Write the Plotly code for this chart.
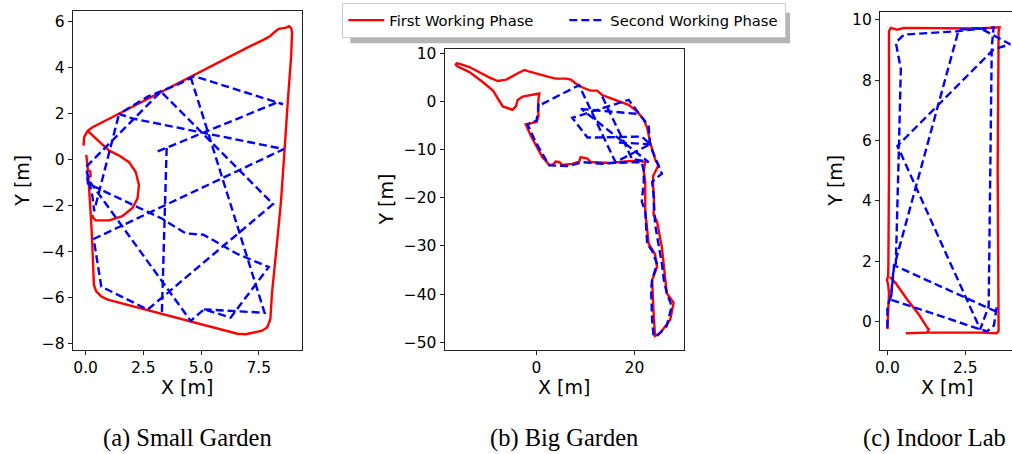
import plotly.graph_objects as go

W, H = 1012, 454

# ---------------- (a) Small Garden ----------------
small_first_x = [-0.09, -0.06, 0.09, 0.3, 1.0, 2.0, 3.0, 4.0, 5.0, 6.0, 7.0, 7.7, 8.0, 8.15, 8.36, 8.65,
                 8.75, 8.82, 8.91, 8.94, 8.9, 8.84, 8.75, 8.62, 8.46, 8.3, 8.15, 8.07, 8.0, 7.93, 7.86,
                 7.64, 7.43, 7.14, 6.93, 6.57, 5.0, 3.0, 1.5, 0.96, 0.68, 0.46, 0.36, 0.33, 0.27, 0.2,
                 0.12, 0.22, 0.2, 0.1, 0.07, 0.03,
                 None,
                 0.09, 0.55, 1.02, 1.45, 1.88, 2.17, 2.31, 2.25, 2.03, 1.59, 1.02, 0.44, 0.33, 0.3]
small_first_y = [0.62, 1.0, 1.26, 1.42, 1.78, 2.3, 2.82, 3.33, 3.85, 4.37, 4.88, 5.22, 5.39, 5.53, 5.7, 5.74,
                 5.77, 5.81, 5.71, 5.53, 4.5, 3.5, 2.47, 0.5, -1.81, -3.5, -5.0, -5.8, -6.93, -7.15, -7.29,
                 -7.43, -7.48, -7.52, -7.58, -7.56, -7.15, -6.62, -6.22, -6.08, -5.94, -5.72, -5.44, -4.5, -3.23, -2.0,
                 -0.75, -0.7, -0.5, -0.45, -0.1, 0.22,
                 None,
                 1.26, 0.84, 0.4, 0.19, -0.1, -0.53, -1.09, -1.67, -2.09, -2.45, -2.63, -2.63, -2.52, -2.4]

small_second_x = [3.12, 8.3, 8.55, 4.7, 3.98, 2.69, 1.45, 2.03, 8.58, 0.35, 0.68, 2.69, 8.12, 3.26, 0.02,
                  0.15, 4.55, 5.13, 6.28, 7.93, 6.57, 5.1, 4.34, 3.3, 0.1, 0.05, 0.3, 0.37, 1.45,
                  None,
                  4.55, 7.75, 5.13,
                  None,
                  3.51, 3.3]
small_second_y = [0.37, 2.5, 2.42, 3.64, 3.27, 2.75, 2.0, 1.8, 0.47, -3.44, -5.51, -6.51, -1.92, 2.97, -0.31,
                  -0.9, -7.0, -6.5, -6.86, -4.66, -4.09, -3.25, -3.2, -2.55, -1.03, -0.5, -1.6, -2.23, 2.0,
                  None,
                  3.6, -6.65, -6.5,
                  None,
                  0.52, -6.75]

# ---------------- (b) Big Garden ----------------
big_first_x = [-16.5, -15.7, -13.7, -11.0, -9.6, -7.9, -6.2, -4.2, -2.5, -1.8, -0.1, 1.9, 3.9, 6.0, 7.0, 8.0,
               9.3, 11.0, 12.4, 13.4, 14.8, 16.8, 18.8, 20.5, 21.9, 22.6, 23.2, 23.9, 24.3, 24.9, 24.6,
               23.8, 23.8, 24.0, 23.9, 24.6, 25.6, 26.3, 26.6, 28.0, 27.3, 25.3, 24.2, 23.9, 23.6, 24.6,
               24.2, 22.9, 22.2, 22.2, 21.9, 22.2, 20.9, 18.2, 14.8, 11.0, 10.4, 9.0, 8.7, 7.3, 5.3, 4.6,
               3.9, 3.3, 2.6, 1.2, -0.1, -1.15, -2.2, -1.5, 0.0, 0.4, 0.3, 0.4, 0.55, 0.0, -1.5, -2.85,
               -3.86, -4.2, -4.9, -6.9, -8.9, -11.0, -13.7, -16.1, -16.5, -16.5]
big_first_y = [7.9, 7.76, 7.1, 5.7, 4.9, 4.2, 4.5, 5.6, 6.5, 6.26, 5.7, 5.2, 4.7, 4.7, 4.5, 3.7,
               2.9, 2.2, 2.2, 1.3, 0.76, -0.05, -0.73, -2.1, -3.8, -5.5, -8.5, -10.9, -12.3, -13.3, -14.0,
               -15.5, -17.5, -20.0, -23.5, -24.9, -30.3, -37.8, -39.8, -41.8, -45.3, -48.0, -48.7, -43.9, -37.1, -34.4,
               -31.7, -29.6, -22.8, -16.7, -14.5, -12.6, -12.3, -12.5, -12.8, -12.6, -11.9, -11.6, -12.5, -13.0, -13.2, -12.6,
               -12.5, -13.2, -13.2, -11.6, -9.2, -7.2, -4.8, -4.6, -4.3, -3.1, -1.0, 0.5, 1.6, 1.5, 1.3, 0.97,
               0.28, -1.0, -1.76, -1.07, 2.2, 4.0, 6.06, 7.2, 7.6, 7.9]

big_second_x = [0.4, 0.3, 0.0, -1.83, -0.14, 1.89, 2.58, 6.65, 9.35, 13.41, 16.12, 21.5, 21.9, 21.9, 21.5,
                22.2, 22.6, 23.6, 24.6, 23.6, 23.4, 23.6, 23.9, 24.6, 26.6, 27.6, 26.6, 26.0, 25.6, 24.9,
                24.2, 23.9, 23.6, 25.6, 24.9, 23.2, 22.9, 20.9, 18.8, 7.3, 10.4, 21.5, 23.2, 16.12, 8.68, 0.3,
                None,
                13.41, 19.5, 22.9, 9.35,
                None,
                16.8, 22.9,
                None,
                9.0, 20.5]
big_second_y = [-0.5, -2.0, -4.0, -4.82, -8.55, -11.96, -13.3, -13.44, -12.63, -12.97, -12.77, -12.63, -14.5, -16.7, -20.8,
                -22.8, -29.6, -31.0, -33.7, -37.1, -39.1, -45.2, -48.7, -48.7, -46.6, -42.5, -39.8, -37.1, -33.7, -29.6,
                -25.5, -19.4, -16.7, -15.0, -13.3, -9.2, -5.15, -2.44, 0.3, -3.45, -7.53, -7.33, -8.9, -12.63, 3.33, -1.0,
                None,
                0.97, -11.96, -12.63, -1.76,
                None,
                -8.55, -8.9,
                None,
                -1.6, -2.6]

# ---------------- (c) Indoor Lab ----------------
lab_first_x = [0.0, 0.02, 0.05, 0.02, -0.02, 0.02, 0.03, 0.05, 0.05, 0.11, 0.32, 0.53, 1.38, 2.98, 3.6,
               3.57, 3.54, 3.57, 3.51, 2.98, 1.3, 0.59,
               None,
               0.08, 0.27, 0.64, 1.01, 1.28, 1.33, 1.28]
lab_first_y = [-0.25, 0.5, 0.94, 1.25, 1.38, 1.49, 1.81, 5.07, 9.62, 9.73, 9.67, 9.73, 9.73, 9.71, 9.75,
               9.62, 5.07, -0.3, -0.38, -0.36, -0.36, -0.38,
               None,
               1.48, 1.27, 0.73, 0.24, -0.2, -0.25, -0.36]

lab_second_x = [0.0, 0.0, 0.11, 0.16, 0.21, 3.46, 3.51, 3.42, 3.2, 2.98, 0.11, 0.21, 2.29, 2.98, 3.94, 3.41,
                0.32, 2.98, 3.25, 3.35, 3.41, 2.24, 1.06, 0.53, 0.27, 0.43, 0.37, 0.27, 0.2]
lab_second_y = [-0.2, 0.51, 0.83, 1.49, 1.87, 0.35, 0.5, -0.12, -0.32, -0.25, 0.73, 1.81, 9.67, 9.72, 9.19, 9.02,
                5.82, -0.25, 0.51, 9.1, 9.75, 9.62, 9.53, 9.51, 9.24, 8.37, 5.82, 1.92, 1.85]

# axis ticks per panel
small_xticks = [0.0, 2.5, 5.0, 7.5]
small_xtext = ["0.0", "2.5", "5.0", "7.5"]
small_yticks = [-8, -6, -4, -2, 0, 2, 4, 6]
big_xticks = [0, 20]
big_yticks = [-50, -40, -30, -20, -10, 0, 10]
lab_xticks = [0.0, 2.5]
lab_xtext = ["0.0", "2.5"]
lab_yticks = [0, 2, 4, 6, 8, 10]

captions = ["(a) Small Garden", "(b) Big Garden", "(c) Indoor Lab"]
series_names = ["First Working Phase", "Second Working Phase"]

RED = "#ff0000"
BLUE = "#0000ff"
LW = 2.4
DASH = "8px,4px"
TICK_FONT = dict(family="DejaVu Sans", size=15.5, color="black")


def px_x(p):
    return p / W


def px_y(p):
    return 1 - p / H


fig = go.Figure()

panels = [
    ("x", "y", small_first_x, small_first_y, small_second_x, small_second_y, True),
    ("x2", "y2", big_first_x, big_first_y, big_second_x, big_second_y, False),
    ("x3", "y3", lab_first_x, lab_first_y, lab_second_x, lab_second_y, False),
]
for xa, ya, fx, fy, sx, sy, show in panels:
    fig.add_trace(go.Scatter(x=fx, y=fy, mode="lines", name=series_names[0], xaxis=xa, yaxis=ya,
                             line=dict(color=RED, width=LW), showlegend=show, legendrank=1))
    fig.add_trace(go.Scatter(x=sx, y=sy, mode="lines", name=series_names[1], xaxis=xa, yaxis=ya,
                             line=dict(color=BLUE, width=LW, dash=DASH), showlegend=show, legendrank=2))

axis_common = dict(showgrid=False, zeroline=False, showline=True, linecolor="#222222", linewidth=1,
                   ticks="outside", ticklen=4, tickwidth=1, tickcolor="#222222", tickfont=TICK_FONT)

fig.update_layout(
    width=W, height=H, margin=dict(l=0, r=0, t=0, b=0),
    paper_bgcolor="white", plot_bgcolor="white",
    xaxis=dict(domain=[px_x(68), px_x(298)], range=[-0.56, 9.35], tickvals=small_xticks,
               ticktext=small_xtext, anchor="y", mirror=True, **axis_common),
    yaxis=dict(domain=[px_y(351), px_y(6)], range=[-8.26, 6.48], tickvals=small_yticks,
               anchor="x", mirror=True, **axis_common),
    xaxis2=dict(domain=[px_x(441.7), px_x(682.3)], range=[-18.8, 30.1], tickvals=big_xticks,
                anchor="y2", mirror=True, **axis_common),
    yaxis2=dict(domain=[px_y(350.7), px_y(45)], range=[-51.5, 10.8], tickvals=big_yticks,
                anchor="x2", mirror=True, **axis_common),
    xaxis3=dict(domain=[px_x(879.3), 1.0], range=[-0.24, 4.0], tickvals=lab_xticks,
                ticktext=lab_xtext, anchor="y3", mirror=True, **axis_common),
    yaxis3=dict(domain=[px_y(350.7), px_y(6.7)], range=[-0.92, 10.27], tickvals=lab_yticks,
                anchor="x3", mirror=False, **axis_common),
    legend=dict(orientation="h", x=px_x(339), y=px_y(-2), xanchor="left", yanchor="top",
                bgcolor="white", bordercolor="#cccccc", borderwidth=1,
                font=dict(family="DejaVu Sans", size=14.7, color="black"),
                itemwidth=36, entrywidth=170, traceorder="normal"),
    showlegend=True,
)

# soft drop shadow behind the legend box
fig.add_shape(type="rect", xref="paper", yref="paper",
              x0=px_x(347), x1=px_x(789), y0=px_y(39), y1=px_y(8),
              fillcolor="#b5b5b5", line=dict(width=0), layer="below")

title_font = dict(family="DejaVu Sans", size=19, color="black")
# x-axis titles
for cx in (183, 562, 946.7):
    fig.add_annotation(text="X [m]", xref="paper", yref="paper", x=px_x(cx), y=px_y(389),
                       showarrow=False, xanchor="center", yanchor="middle", font=title_font)
# y-axis titles
for cx, cy in ((17, 179), (382, 198), (834, 179)):
    fig.add_annotation(text="Y [m]", xref="paper", yref="paper", x=px_x(cx), y=px_y(cy),
                       showarrow=False, xanchor="center", yanchor="middle", textangle=-90, font=title_font)

cap_font = dict(family="Liberation Serif", size=24.5, color="black")
fig.add_annotation(text=captions[0], xref="paper", yref="paper", x=px_x(183), y=px_y(441),
                   showarrow=False, xanchor="center", yanchor="middle", font=cap_font)
fig.add_annotation(text=captions[1], xref="paper", yref="paper", x=px_x(562), y=px_y(441),
                   showarrow=False, xanchor="center", yanchor="middle", font=cap_font)
fig.add_annotation(text=captions[2], xref="paper", yref="paper", x=px_x(1008), y=px_y(441),
                   showarrow=False, xanchor="right", yanchor="middle", font=cap_font)

fig.write_html("out.html")
